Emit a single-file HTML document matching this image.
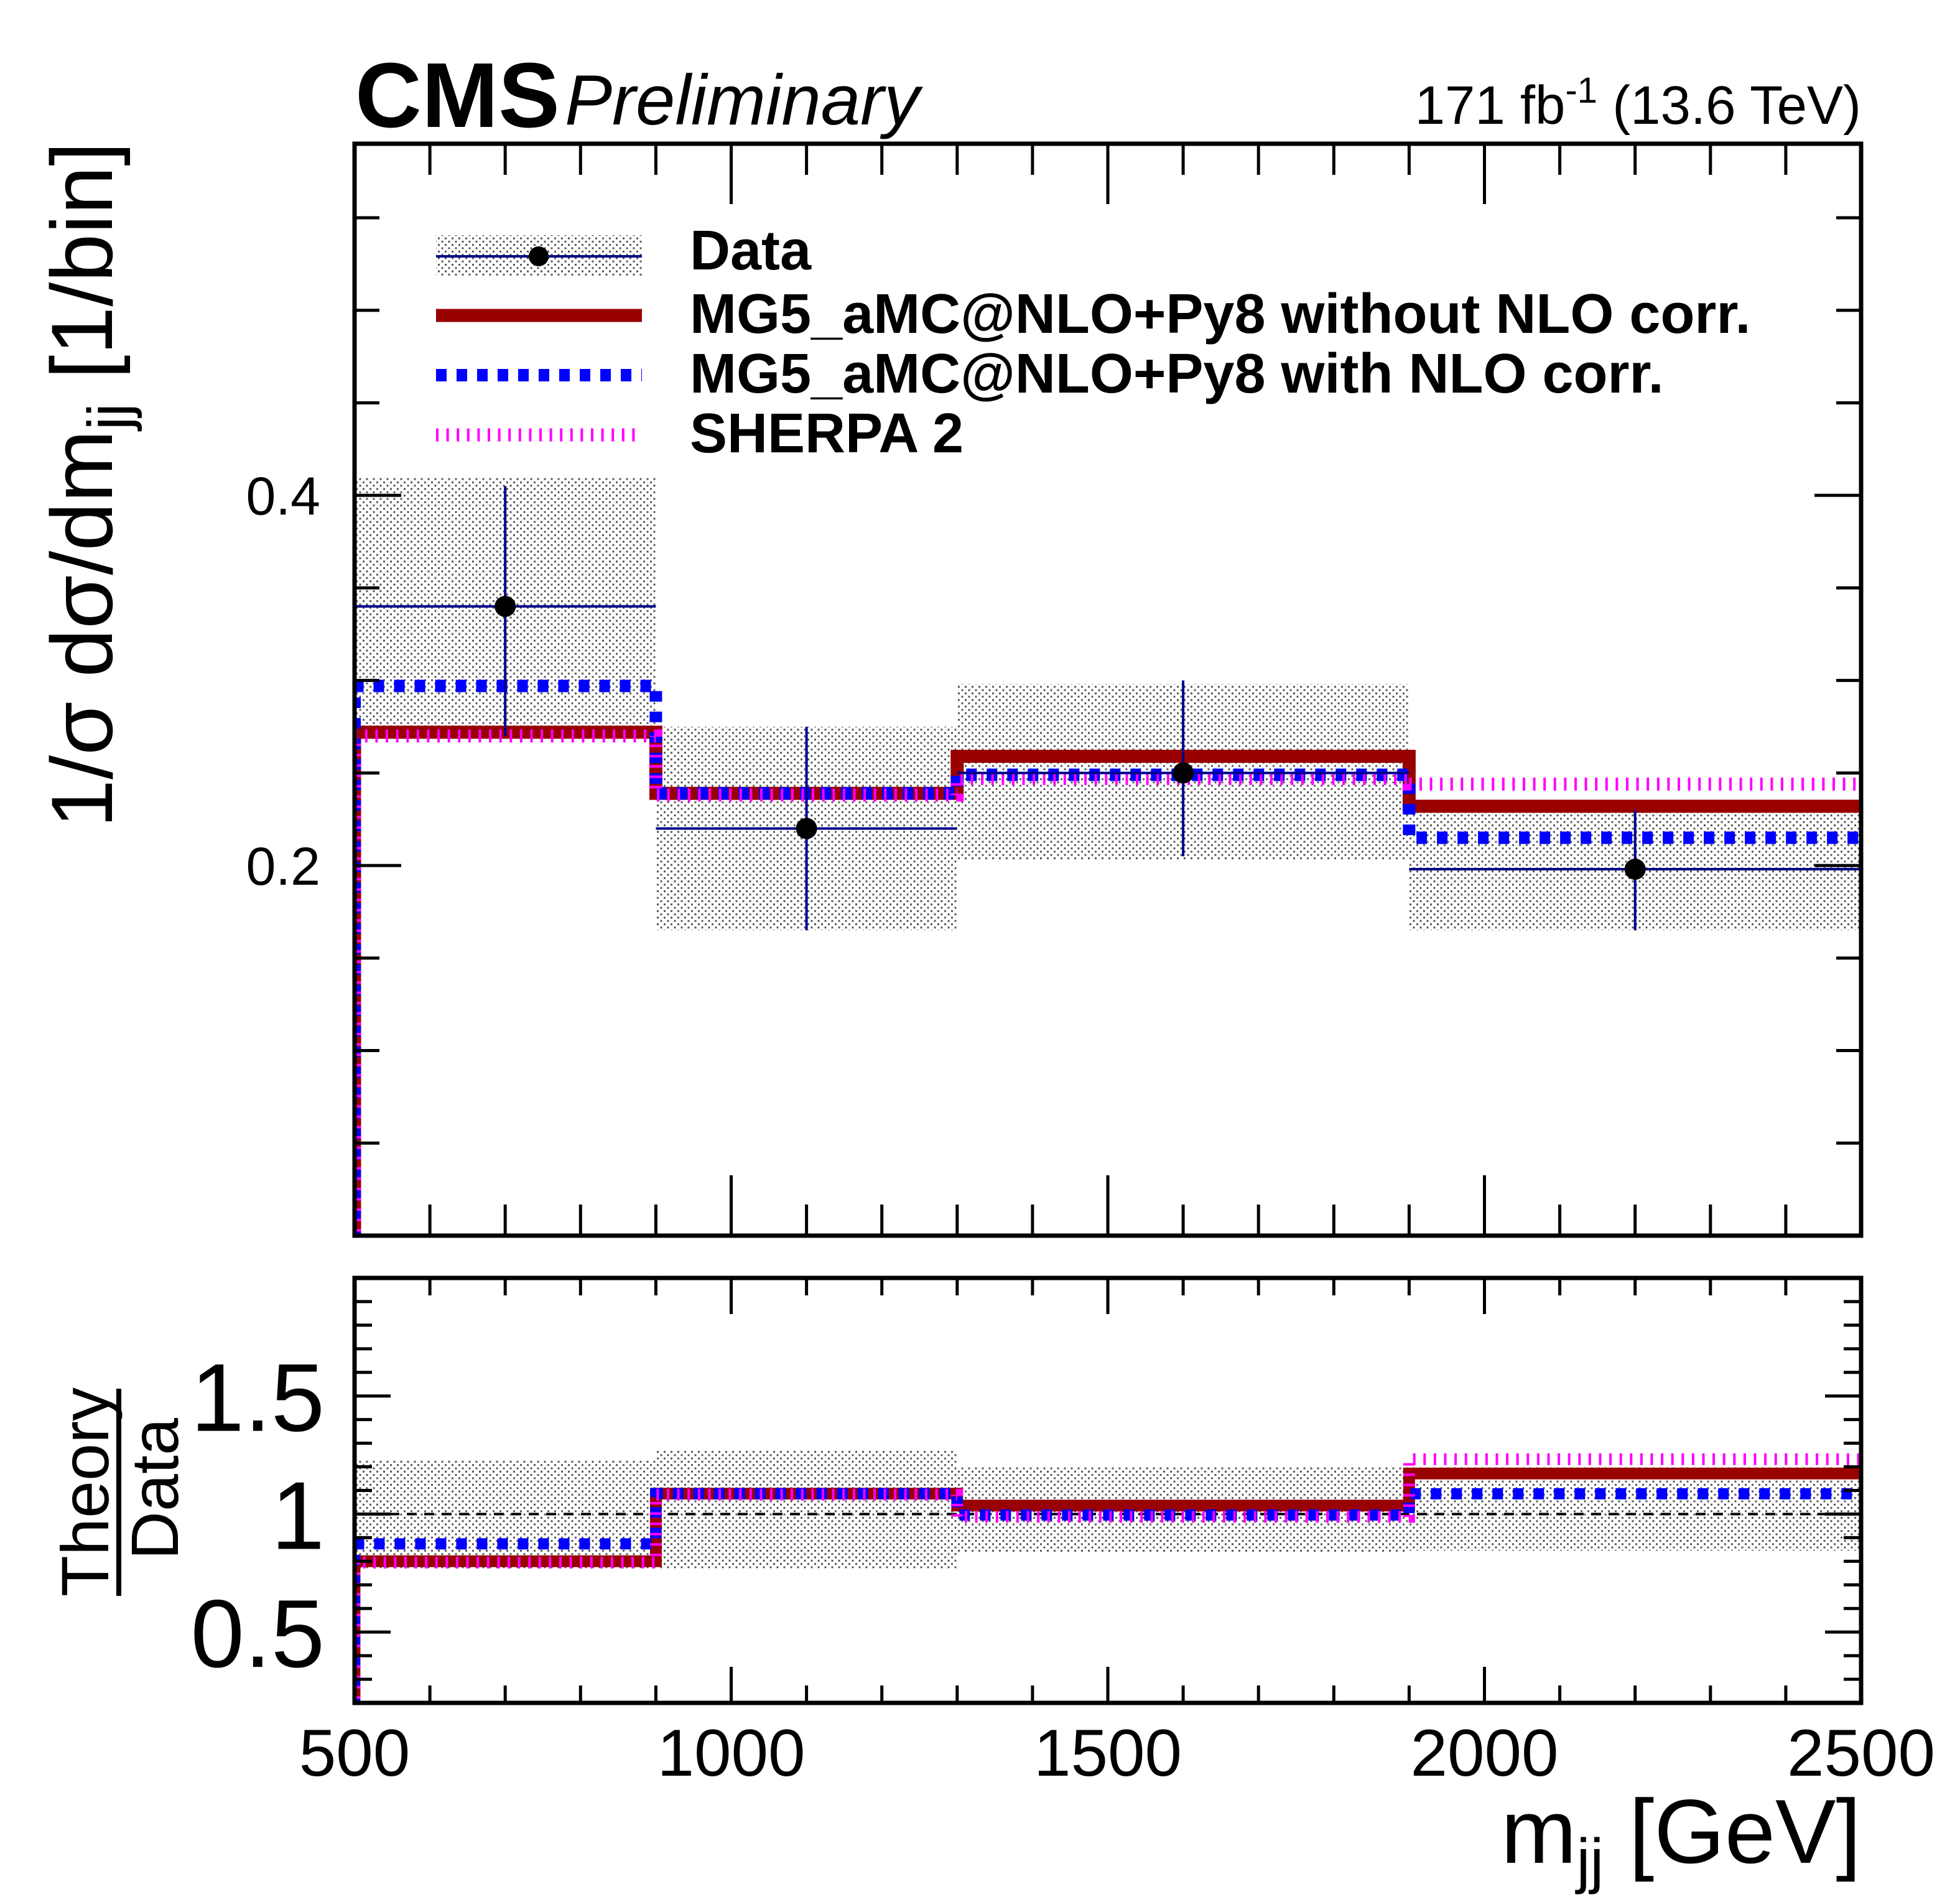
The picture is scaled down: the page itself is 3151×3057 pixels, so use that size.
<!DOCTYPE html>
<html><head><meta charset="utf-8"><style>
html,body{margin:0;padding:0;background:#fff;}
svg{display:block;font-family:"Liberation Sans",Arial,sans-serif;}
</style></head><body>
<svg id="chart" xmlns="http://www.w3.org/2000/svg" width="3151" height="3057" viewBox="0 0 3151 3057">
<defs>
<pattern id="dots" patternUnits="userSpaceOnUse" width="11" height="10.6">
<rect x="0" y="0" width="3" height="3" fill="#555"/>
<rect x="5.5" y="5.3" width="3" height="3" fill="#555"/>
</pattern>
<clipPath id="clipMain"><rect x="570" y="231" width="2422" height="1755"/></clipPath>
<clipPath id="clipRatio"><rect x="570" y="2054" width="2422" height="683"/></clipPath>
</defs>
<g id="mainLayer"></g>
<g id="ratioLayer"></g>
<g id="textLayer">
<text x="571" y="204" font-size="148" font-weight="bold">CMS</text>
<text x="908" y="200" font-size="114" font-style="italic">Preliminary</text>
<text x="2992" y="199" font-size="87" text-anchor="end">171 fb<tspan font-size="58" dy="-34">-1</tspan><tspan dy="34"> (13.6 TeV)</tspan></text>
<text transform="translate(180,228) rotate(-90)" font-size="140" text-anchor="end">1/σ dσ/dm<tspan font-size="96" dy="28">jj</tspan><tspan dy="-28"> [1/bin]</tspan></text>
<text transform="translate(174,2398) rotate(-90)" font-size="108" text-anchor="middle">Theory</text>
<line x1="191" y1="2232" x2="191" y2="2565" stroke="#000" stroke-width="8"/>
<text transform="translate(286,2393) rotate(-90)" font-size="108" text-anchor="middle">Data</text>
<text x="2992" y="2994" font-size="146" text-anchor="end">m<tspan font-size="98" dy="30">jj</tspan><tspan dy="-30"> [GeV]</tspan></text>
</g>
<g id="legend">
<g>
<rect x="701" y="378" width="331" height="67" fill="url(#dots)"/>
<line x1="701" y1="412" x2="1032" y2="412" stroke="#00008b" stroke-width="4"/>
<circle cx="866" cy="412" r="16" fill="#000"/>
<text x="1109" y="433" font-size="90" font-weight="bold">Data</text>
</g>
<g>
<line x1="701" y1="507" x2="1032" y2="507" stroke="#990000" stroke-width="21"/>
<text x="1109" y="535" font-size="90" font-weight="bold">MG5_aMC@NLO+Py8 without NLO corr.</text>
</g>
<g>
<line x1="701" y1="603" x2="1032" y2="603" stroke="#0000ff" stroke-width="20" stroke-dasharray="17 16"/>
<text x="1109" y="631" font-size="90" font-weight="bold">MG5_aMC@NLO+Py8 with NLO corr.</text>
</g>
<g>
<line x1="701" y1="699" x2="1025" y2="699" stroke="#ff00ff" stroke-width="21" stroke-dasharray="4 12.6"/>
<text x="1109" y="727" font-size="90" font-weight="bold">SHERPA 2</text>
</g>
</g>
</svg>
<script>
const binEdges = [500, 900, 1300, 1900, 2500];
const dataValues = [0.34, 0.22, 0.25, 0.198];
const dataStatLow = [0.27, 0.165, 0.205, 0.165];
const dataStatHigh = [0.405, 0.275, 0.30, 0.23];
const bandLow = [0.27, 0.165, 0.203, 0.165];
const bandHigh = [0.41, 0.275, 0.298, 0.23];
const ratioBandLow = [0.77, 0.77, 0.84, 0.845];
const ratioBandHigh = [1.23, 1.27, 1.2, 1.2];
const mgNoCorr = [0.272, 0.239, 0.259, 0.232];
const mgNloCorr = [0.297, 0.239, 0.249, 0.215];
const sherpa = [0.27, 0.238, 0.247, 0.244];
const mainYTicks = [0.2, 0.4];
const ratioYTicks = [0.5, 1, 1.5];
const xTicks = [500, 1000, 1500, 2000, 2500];

const NS = "http://www.w3.org/2000/svg";
const X0 = 570, X1 = 2992;
const X = v => X0 + (v - 500) / 2000 * (X1 - X0);
const MY0 = 1986, MY1 = 231, MYMAX = 0.59;
const Y = v => MY0 - v / MYMAX * (MY0 - MY1);
const RY0 = 2737, RY1 = 2054, RMIN = 0.2, RMAX = 2.0;
const R = v => RY0 - (v - RMIN) / (RMAX - RMIN) * (RY0 - RY1);

function el(tag, attrs, parent) {
  const e = document.createElementNS(NS, tag);
  for (const k in attrs) e.setAttribute(k, attrs[k]);
  parent.appendChild(e);
  return e;
}
const main = document.getElementById('mainLayer');
const ratio = document.getElementById('ratioLayer');
const mainClip = el('g', {'clip-path': 'url(#clipMain)'}, main);


const ratioClip = el('g', {'clip-path': 'url(#clipRatio)'}, ratio);



for (let i = 0; i < dataValues.length; i++) {
  const r = el('rect', {x: X(binEdges[i]), y: Y(bandHigh[i]), width: X(binEdges[i+1]) - X(binEdges[i]), height: Y(bandLow[i]) - Y(bandHigh[i]), fill: 'url(#dots)'}, mainClip);
  
  
  const rr = el('rect', {x: X(binEdges[i]), y: R(ratioBandHigh[i]), width: X(binEdges[i+1]) - X(binEdges[i]), height: R(ratioBandLow[i]) - R(ratioBandHigh[i]), fill: 'url(#dots)'}, ratioClip);
  
  
}
const unity = el('line', {x1: X0, y1: R(1), x2: X1, y2: R(1), stroke: '#000', 'stroke-width': 4, 'stroke-dasharray': '16 12'}, ratioClip);



function stepPath(vals, f, base) {
  let d = 'M' + X(binEdges[0]) + ',' + base;
  for (let i = 0; i < vals.length; i++) {
    d += ' L' + X(binEdges[i]) + ',' + f(vals[i]) + ' L' + X(binEdges[i+1]) + ',' + f(vals[i]);
  }
  return d;
}
const series = [
  {name: 'mg5-without-nlo', vals: mgNoCorr, stroke: '#990000', w: 21, dash: ''},
  {name: 'mg5-with-nlo', vals: mgNloCorr, stroke: '#0000ff', w: 20, dash: '17 16'},
  {name: 'sherpa', vals: sherpa, stroke: '#ff00ff', w: 21, dash: '4 12.6'}
];
series.forEach(s => {
  const p = el('path', {d: stepPath(s.vals, Y, MY0 + 10), fill: 'none', stroke: s.stroke, 'stroke-width': s.w, 'stroke-dasharray': s.dash}, mainClip);
  
  
  const rv = s.vals.map((v, i) => v / dataValues[i]);
  const q = el('path', {d: stepPath(rv, R, RY0 + 10), fill: 'none', stroke: s.stroke, 'stroke-width': s.w * 0.9, 'stroke-dasharray': s.dash}, ratioClip);
  
  
});

for (let i = 0; i < dataValues.length; i++) {
  const cx = X((binEdges[i] + binEdges[i+1]) / 2);
  const g = el('g', {}, mainClip);
  
  
  el('line', {x1: X(binEdges[i]), y1: Y(dataValues[i]), x2: X(binEdges[i+1]), y2: Y(dataValues[i]), stroke: '#00008b', 'stroke-width': 4}, g);
  el('line', {x1: cx, y1: Y(dataStatLow[i]), x2: cx, y2: Y(dataStatHigh[i]), stroke: '#00008b', 'stroke-width': 4}, g);
  el('circle', {cx: cx, cy: Y(dataValues[i]), r: 17, fill: '#000'}, g);
}

function frame(parent, y0, y1, name) {
  const f = el('rect', {x: X0, y: y1, width: X1 - X0, height: y0 - y1, fill: 'none', stroke: '#000', 'stroke-width': 7}, parent);
  
  
}
function ticks(parent, y0, y1, yf, yMin, yMax, minorStep, majorVals, yMajLen, yMinLen, xMajLen, xMinLen) {
  const g = el('g', {stroke: '#000', 'stroke-width': 5}, parent);
  
  
  for (let v = 500; v <= 2500; v += 100) {
    const len = (v % 500 === 0) ? xMajLen : xMinLen;
    el('line', {x1: X(v), y1: y0, x2: X(v), y2: y0 - len}, g);
    el('line', {x1: X(v), y1: y1, x2: X(v), y2: y1 + len}, g);
  }
  for (let k = Math.ceil(yMin / minorStep); k * minorStep <= yMax + 1e-9; k++) {
    const v = k * minorStep;
    const major = majorVals.some(m => Math.abs(m - v) < 1e-6);
    const len = major ? yMajLen : yMinLen;
    el('line', {x1: X0, y1: yf(v), x2: X0 + len, y2: yf(v)}, g);
    el('line', {x1: X1, y1: yf(v), x2: X1 - len, y2: yf(v)}, g);
  }
}
ticks(main, MY0, MY1, Y, 0.05, 0.58, 0.05, mainYTicks, 75, 40, 97, 50);
frame(main, MY0, MY1, 'main-frame');
ticks(ratio, RY0, RY1, R, 0.3, 1.95, 0.1, ratioYTicks, 58, 28, 58, 28);
frame(ratio, RY0, RY1, 'ratio-frame');

const tl = document.getElementById('textLayer');
mainYTicks.forEach(v => {
  const t = el('text', {x: 515, y: Y(v) + 31, 'font-size': 86, 'text-anchor': 'end'}, tl);
  t.textContent = v.toFixed(1);
  
  
});
ratioYTicks.forEach(v => {
  const t = el('text', {x: 522, y: R(v) + 56, 'font-size': 155, 'text-anchor': 'end'}, tl);
  t.textContent = String(v);
  
  
});
xTicks.forEach(v => {
  const t = el('text', {x: X(v), y: 2854, 'font-size': 107, 'text-anchor': 'middle'}, tl);
  t.textContent = String(v);
  
  
});
</script>
</body></html>
